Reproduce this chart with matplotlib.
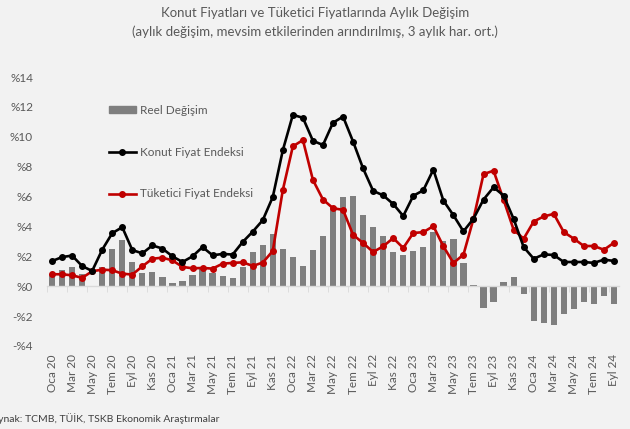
import matplotlib
matplotlib.use("Agg")
import matplotlib.pyplot as plt
from matplotlib.lines import Line2D
from matplotlib.patches import Patch
import numpy as np

months = ["Oca", "Şub", "Mar", "Nis", "May", "Haz", "Tem", "Ağu", "Eyl", "Eki", "Kas", "Ara"]
years = ["20", "21", "22", "23", "24"]
categories = [f"{m} {y}" for y in years for m in months][:57]

konut = [1.68, 1.95, 2.05, 1.35, 1.02, 2.44, 3.55, 3.95, 2.42, 2.20, 2.73, 2.52,
         2.00, 1.62, 2.00, 2.62, 2.07, 2.16, 2.12, 2.96, 3.65, 4.42, 5.97, 9.10,
         11.47, 11.27, 9.73, 9.45, 10.94, 11.35, 9.68, 7.88, 6.38, 6.08, 5.50, 4.70,
         6.05, 6.42, 7.80, 5.73, 4.75, 3.67, 4.52, 5.80, 6.62, 6.07, 4.50, 2.62,
         1.84, 2.13, 2.09, 1.62, 1.62, 1.62, 1.56, 1.78, 1.69]
tufe = [0.80, 0.80, 0.73, 0.56, 1.00, 1.11, 1.07, 0.84, 0.78, 1.33, 1.84, 1.91,
        1.73, 1.29, 1.20, 1.22, 1.18, 1.51, 1.56, 1.60, 1.36, 1.58, 2.36, 6.44,
        9.36, 9.78, 7.11, 5.80, 5.22, 5.11, 3.44, 2.89, 2.29, 2.67, 3.22, 2.56,
        3.56, 3.62, 4.02, 2.67, 1.56, 2.11, 4.51, 7.50, 7.73, 5.78, 3.78, 3.18,
        4.33, 4.67, 4.84, 3.62, 3.18, 2.69, 2.69, 2.44, 2.91]
reel = [0.84, 1.11, 1.29, 0.80, 0.00, 1.28, 2.51, 3.07, 1.65, 0.89, 0.95, 0.62,
        0.23, 0.37, 0.72, 1.15, 0.89, 0.67, 0.58, 1.29, 2.28, 2.77, 3.47, 2.50,
        1.93, 1.32, 2.45, 3.38, 5.20, 5.96, 6.07, 4.78, 3.96, 3.33, 2.29, 2.11,
        2.36, 2.62, 3.62, 3.00, 3.18, 1.55, 0.06, -1.49, -1.04, 0.27, 0.62, -0.53,
        -2.33, -2.49, -2.60, -1.89, -1.51, -1.04, -1.16, -0.67, -1.16]

yticks = [-4, -2, 0, 2, 4, 6, 8, 10, 12, 14]
ytick_labels = ["-%4", "-%2", "%0", "%2", "%4", "%6", "%8", "%10", "%12", "%14"]

plt.rcParams['font.family'] = ['Lato', 'DejaVu Sans']
bg = "#f2f2f2"
txt = "#595959"

fig = plt.figure(figsize=(6.3, 4.29), dpi=100, facecolor=bg)
ax = fig.add_axes([47/630, 1-346/429, (619-47)/630, (346-77)/429], facecolor=bg)

x = np.arange(len(categories))
ax.bar(x, reel, width=0.62, color="#7f7f7f", zorder=2)
ax.plot(x, konut, color="black", lw=1.9, marker="o", ms=4, zorder=4)
ax.plot(x, tufe, color="#c00000", lw=1.9, marker="o", ms=4, zorder=3)

ax.set_xlim(-0.5, len(categories)-0.5)
ax.set_ylim(-4, 14)
ax.set_yticks(yticks)
ax.set_yticklabels(ytick_labels, color=txt, fontsize=8.5)
ax.tick_params(axis='y', length=0, pad=10)

for s in ["top", "right", "left"]:
    ax.spines[s].set_visible(False)
ax.spines["bottom"].set_position(("data", 0))
ax.spines["bottom"].set_color("#d9d9d9")
ax.spines["bottom"].set_linewidth(1)

ax.set_xticks(x[::2])
ax.set_xticklabels(categories[::2], rotation=90, color=txt, fontsize=8.5, va="top")
ax.set_xticks(np.arange(-0.5, len(categories), 2), minor=True)
ax.tick_params(axis='x', which='major', length=0, pad=49)
ax.tick_params(axis='x', which='minor', length=4, color="#d9d9d9")

handles = [Patch(color="#7f7f7f"),
           Line2D([], [], color="black", lw=1.9, marker="o", ms=4),
           Line2D([], [], color="#c00000", lw=1.9, marker="o", ms=4)]
labels = ["Reel Değişim", "Konut Fiyat Endeksi", "Tüketici Fiyat Endeksi"]
leg = ax.legend(handles, labels, loc="upper left", bbox_to_anchor=(0.1, 0.915),
                frameon=False, labelspacing=2.62, handlelength=2.3, handleheight=0.45,
                handletextpad=0.3, fontsize=8.5, borderaxespad=0)
for t in leg.get_texts():
    t.set_color(txt)

fig.text(0.5, 1-13/429, "Konut Fiyatları ve Tüketici Fiyatlarında Aylık Değişim",
         ha="center", va="center", color=txt, fontsize=9.5)
fig.text(0.5, 1-32/429, "(aylık değişim, mevsim etkilerinden arındırılmış, 3 aylık har. ort.)",
         ha="center", va="center", color=txt, fontsize=9.5)
fig.text(-14/630, 1-419/429, "Kaynak: TCMB, TÜİK, TSKB Ekonomik Araştırmalar",
         ha="left", va="center", color="#404040", fontsize=7.5)

fig.savefig("out.png", dpi=100, facecolor=bg)
